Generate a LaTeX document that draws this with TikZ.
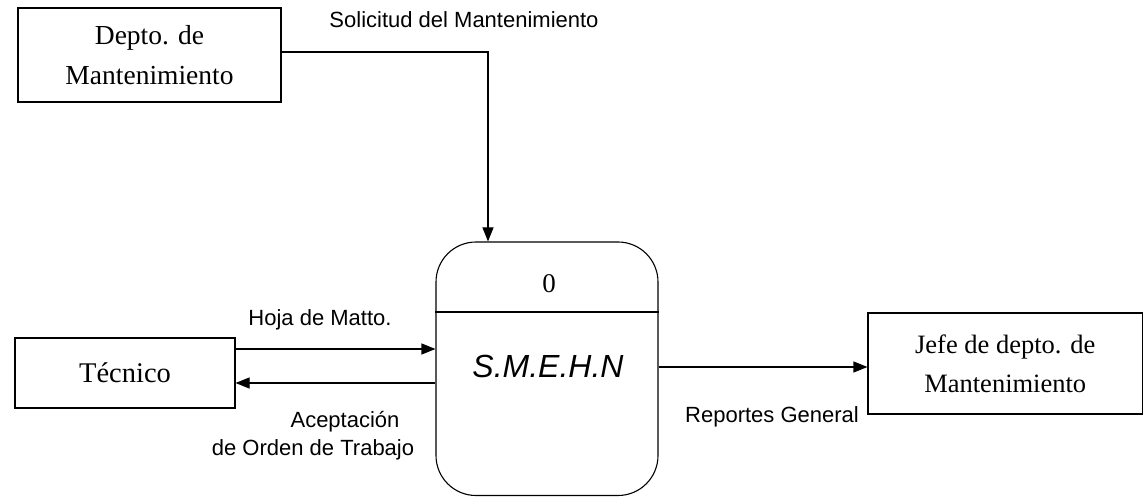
\documentclass[tikz,border=0pt]{standalone}
\usepackage{fontspec}
\setmainfont{Liberation Serif}
\setsansfont{Liberation Sans}
\usetikzlibrary{arrows.meta}
\begin{document}
\begin{tikzpicture}[x=1pt,y=-1pt,
  line width=1.1pt,
  entbox/.style={draw, inner sep=0pt, align=center},
  arr/.style={-{Triangle[length=14pt,width=11pt]}},
  lbl/.style={inner sep=0pt, anchor=base, font=\sffamily\fontsize{22}{26}\selectfont}]
\useasboundingbox (0,0) rectangle (1144,497);
\fill[white] (0,0) rectangle (1144,497);
% entities
\node[entbox, minimum width=263pt, minimum height=94pt,
      font=\fontsize{27.5}{40}\selectfont] (dep) at (149.5,55) {Depto. de\\Mantenimiento};
\node[entbox, minimum width=220pt, minimum height=70pt,
      font=\fontsize{28.5}{32}\selectfont] (tec) at (125,373) {Técnico};
\node[entbox, minimum width=274.5pt, minimum height=101pt,
      font=\fontsize{26.5}{39}\selectfont] (jefe) at (1005.25,363.5) {Jefe de depto. de\\Mantenimiento};
% process
\node[draw, rounded corners=40pt, minimum width=222pt, minimum height=253.5pt, inner sep=0pt] (proc) at (547,368.75) {};
\coordinate (dv) at (0,312);
\draw (proc.west |- dv) -- (proc.east |- dv);
\node[inner sep=0pt, anchor=base, font=\fontsize{27}{30}\selectfont] (pnum) at (549,293) {0};
\node[inner sep=0pt, anchor=base, font=\sffamily\itshape\fontsize{32}{36}\selectfont] (pname) at (548,377) {S.M.E.H.N};
% connectors
\coordinate (c1) at (488,52);
\draw[arr] (dep.east |- c1) -- (c1) -- (proc.north -| c1);
\coordinate (h1) at (0,349);
\coordinate (h2) at (0,383);
\coordinate (h3) at (0,367);
\draw[arr] (tec.east |- h1) -- (proc.west |- h1);
\draw[arr] (proc.west |- h2) -- (tec.east |- h2);
\draw[arr] (proc.east |- h3) -- (jefe.west |- h3);
% labels
\node[lbl] (l1) at (464,28) {Solicitud del Mantenimiento};
\node[lbl] (l2) at (320,325) {Hoja de Matto.};
\node[lbl] (l3) at (345,427) {Aceptación};
\node[lbl] (l4) at (313,455) {de Orden de Trabajo};
\node[lbl] (l5) at (772,422) {Reportes General};
\end{tikzpicture}
\end{document}
